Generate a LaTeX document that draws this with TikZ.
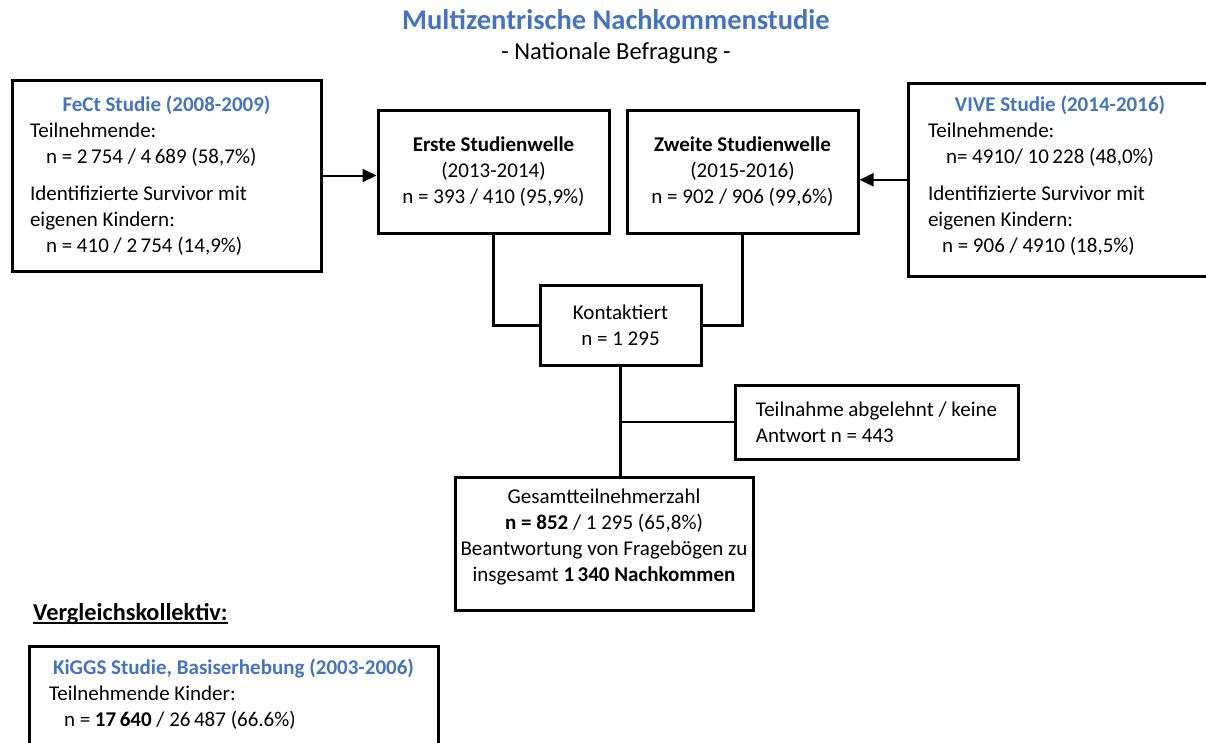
\documentclass[tikz,border=0pt]{standalone}
\usepackage{fontspec}
\setmainfont{Carlito}
\usetikzlibrary{arrows.meta}
\definecolor{studyblue}{HTML}{4472C4}
\newcommand{\studyname}[1]{\makebox[\hsize]{\bfseries\color{studyblue}#1}}
\newcommand{\thickul}[1]{\setbox0\hbox{#1}\rlap{\rule[-4pt]{\wd0}{2pt}}\box0}

\begin{document}
\begin{tikzpicture}[x=1pt, y=-1pt, font=\fontsize{21}{26}\selectfont,
	box/.style={draw, line width=3pt, inner ysep=0pt},
	link/.style={line width=2.6pt},
	feed/.style={line width=2pt, -{Triangle[length=14pt,width=13pt]}}]
		\useasboundingbox (0,0) rectangle (1206,742);
		
		%heading
		\node (head) at (616,20) {\fontsize{28.5}{32}\selectfont\bfseries\color{studyblue}Multizentrische Nachkommenstudie};
		\node (subhead) at (616,53) {\fontsize{24.5}{28}\selectfont - Nationale Befragung -};
		
		%source studies
		\node (fect) at (166.5,175.5) [box, align=flush left, inner xsep=18pt, text width=273pt, minimum height=191pt]{\studyname{FeCt Studie (2008-2009)}\\
			Teilnehmende:\\
			\hspace*{16pt}n = 2\,754 / 4\,689 (58,7\%)\\[11pt]
			Identifizierte Survivor mit\\
			eigenen Kindern:\\
			\hspace*{16pt}n = 410 / 2\,754 (14,9\%)};
		\node (vive) at (1060,82) [box, anchor=north, align=flush left, inner xsep=20pt, inner ysep=12pt, text width=264pt, text depth=153pt]{\studyname{VIVE Studie (2014-2016)}\\
			Teilnehmende:\\
			\hspace*{18pt}n= 4910/ 10\,228 (48,0\%)\\[11pt]
			Identifizierte Survivor mit\\
			eigenen Kindern:\\
			\hspace*{14pt}n = 906 / 4910 (18,5\%)};
		
		%study waves
		\node (erste) at (493.5,171.5) [box, align=center, minimum width=231pt, minimum height=123pt]{\textbf{Erste Studienwelle}\\(2013-2014)\\n = 393 / 410 (95,9\%)};
		\node (zweite) at (742.5,171.5) [box, align=center, minimum width=231pt, minimum height=123pt]{\textbf{Zweite Studienwelle}\\(2015-2016)\\n = 902 / 906 (99,6\%)};
		
		%contact and outcome
		\node (kontakt) at (620.5,325.5) [box, align=center, minimum width=161pt, minimum height=80pt]{Kontaktiert\\n = 1 295};
		\node (abgelehnt) at (876.5,422) [box, align=flush left, minimum width=283pt, minimum height=74pt]{Teilnahme abgelehnt / keine\\Antwort n = 443};
		\node (gesamt) at (604,543.5) [box, align=center, minimum width=298pt, minimum height=133pt, text depth=16pt]{Gesamtteilnehmerzahl\\
			\textbf{n = 852} / 1 295 (65,8\%)\\
			Beantwortung von Fragebögen zu\\
			insgesamt \textbf{1\,340 Nachkommen}};
		
		%comparison group
		\node (vergleich) at (33,614) [anchor=west, inner sep=0pt]{\fontsize{24.3}{28}\selectfont\bfseries\thickul{Vergleichskollektiv:}};
		\node (kiggs) at (233.5,645) [box, anchor=north, align=flush left, inner xsep=20pt, inner ysep=12pt, text width=369pt, text depth=60pt]{\studyname{KiGGS Studie, Basiserhebung (2003-2006)}\\
			Teilnehmende Kinder:\\
			\hspace*{15pt}n = \textbf{17\,640} / 26\,487 (66.6\%)};
		
		%connectors
		\draw[feed] (fect.east) -- (fect.east -| erste.west);
		\draw[feed] (vive.west) -- (vive.west -| zweite.east);
		\draw[link] (erste.south) |- (kontakt.west);
		\draw[link] (zweite.south) |- (kontakt.east);
		\draw[link] (kontakt.south) -- (kontakt.south |- gesamt.north);
		\draw[link] (abgelehnt.west) -- (abgelehnt.west -| kontakt.south);
		\end{tikzpicture}
\end{document}
